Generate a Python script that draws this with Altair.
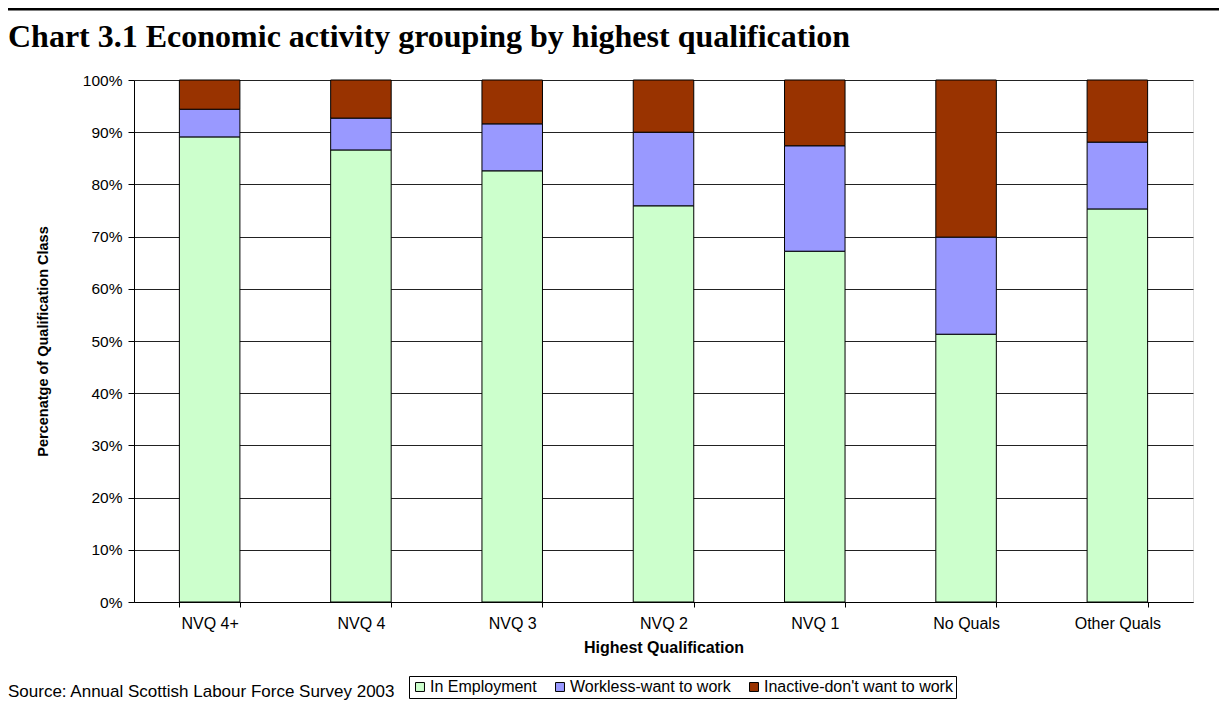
import altair as alt
import pandas as pd

categories = ["NVQ 4+", "NVQ 4", "NVQ 3", "NVQ 2", "NVQ 1", "No Quals", "Other Quals"]
series = ["In Employment", "Workless-want to work", "Inactive-don't want to work"]
employment = [89.1, 86.6, 82.6, 75.9, 67.2, 51.3, 75.3]
workless = [5.3, 6.1, 9.0, 14.1, 20.2, 18.6, 12.8]
inactive = [5.6, 7.3, 8.4, 10.0, 12.6, 30.1, 11.9]
colors = ["#CCFFCC", "#9999FF", "#993300"]
y_ticks = [i / 10 for i in range(11)]

rows = []
for i, c in enumerate(categories):
    for k, (s, vals) in enumerate(zip(series, [employment, workless, inactive])):
        rows.append({"cat": c, "series": s, "ord": k, "value": vals[i] / 100})
df = pd.DataFrame(rows)

W, H = 1059, 522
FONT = "Liberation Sans"

bars = alt.Chart(df).mark_bar(stroke="black", strokeWidth=1).encode(
    x=alt.X("cat:N", sort=categories, title="Highest Qualification",
            scale=alt.Scale(paddingInner=0.6, paddingOuter=0.3),
            axis=alt.Axis(labelAngle=0, tickBand="extent", grid=False,
                          domainColor="black", tickColor="black", tickSize=5,
                          labelFont=FONT, labelFontSize=16, labelColor="black",
                          labelPadding=8,
                          titleFont=FONT, titleFontSize=16, titleFontWeight="bold",
                          titleColor="black", titlePadding=8)),
    y=alt.Y("value:Q", stack="zero", title="Percenatge of Qualification Class",
            scale=alt.Scale(domain=[0, 1], nice=False),
            axis=alt.Axis(values=y_ticks, format=".0%", grid=True,
                          gridColor="#222222", gridWidth=1,
                          domainColor="black", tickColor="black", tickSize=6,
                          labelFont=FONT, labelFontSize=15.5, labelColor="black",
                          labelPadding=6,
                          titleFont=FONT, titleFontSize=14.5, titleFontWeight="bold",
                          titleColor="black", titlePadding=32)),
    color=alt.Color("series:N", scale=alt.Scale(domain=series, range=colors),
                    legend=alt.Legend(title=None, orient="none", direction="horizontal",
                                      legendX=275, legendY=596,
                                      symbolType="square", symbolSize=80,
                                      symbolStrokeColor="black", symbolStrokeWidth=1,
                                      labelFont=FONT, labelFontSize=16, labelColor="black",
                                      labelLimit=0,
                                      columnPadding=15, labelOffset=2,
                                      strokeColor="black", padding=3)),
    order=alt.Order("ord:Q", sort="ascending"),
)

title_df = pd.DataFrame({"t": ["Chart 3.1 Economic activity grouping by highest qualification"]})
title = alt.Chart(title_df).mark_text(
    font="Liberation Serif", fontSize=32, fontWeight="bold", align="left",
    baseline="alphabetic", color="black"
).encode(x=alt.value(-126), y=alt.value(-33), text="t:N")

src_df = pd.DataFrame({"t": ["Source: Annual Scottish Labour Force Survey 2003"]})
source = alt.Chart(src_df).mark_text(
    font=FONT, fontSize=17, align="left", baseline="alphabetic", color="black"
).encode(x=alt.value(-126), y=alt.value(617), text="t:N")

line_df = pd.DataFrame({"a": [0]})
topline = alt.Chart(line_df).mark_rule(color="black", strokeWidth=3).encode(
    x=alt.value(-126), x2=alt.value(W + 26), y=alt.value(-71))

chart = alt.layer(topline, bars, title, source).properties(
    width=W, height=H,
    autosize=alt.AutoSizeParams(type="none"),
    padding={"left": 126, "top": 72, "right": 26, "bottom": 102},
).configure_view(stroke="#808080", strokeWidth=1).configure(background="white")

chart.save("out.html", embed_options={"renderer": "svg", "actions": False})
